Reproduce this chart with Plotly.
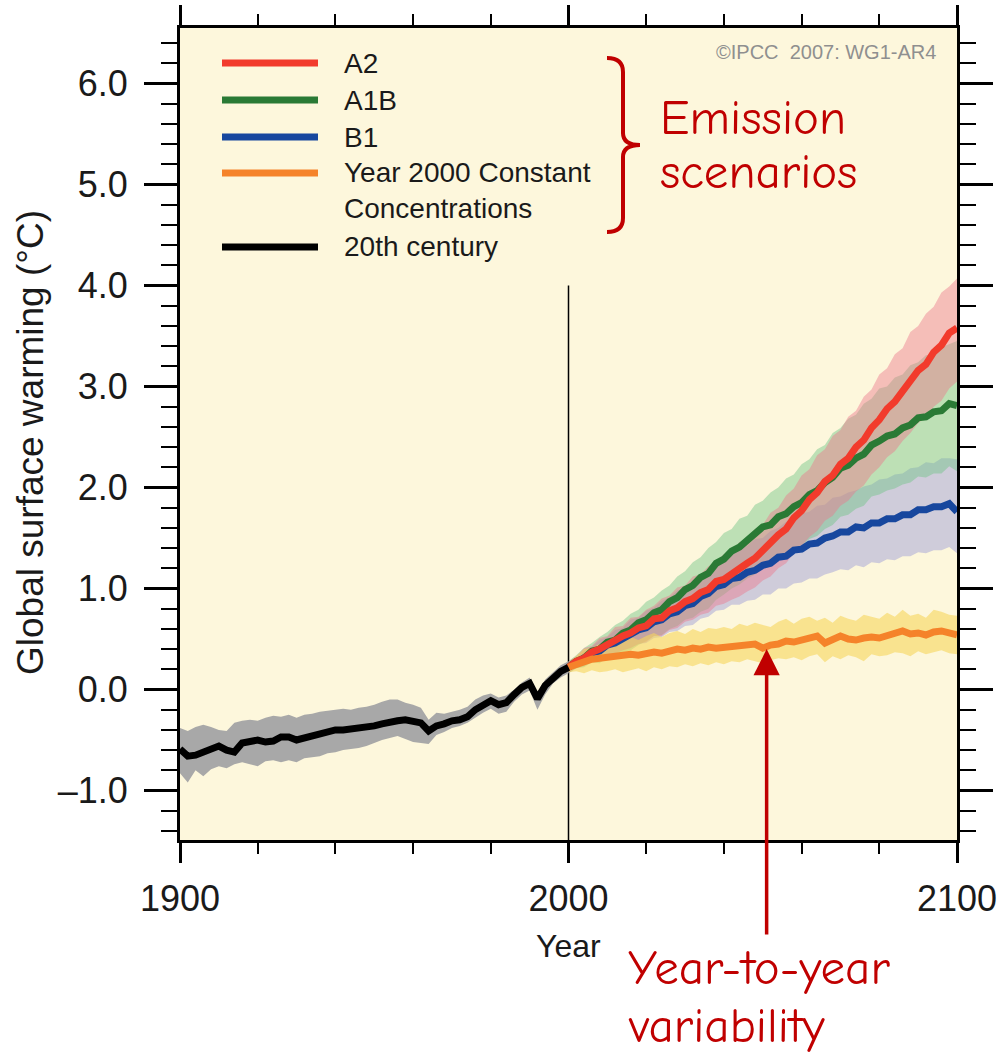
import plotly.graph_objects as go

# ---------------- data ----------------
YEARS_20C = list(range(1900, 2001, 2))
MEAN_20C = [-0.59, -0.66, -0.65, -0.62, -0.58, -0.56, -0.60, -0.62, -0.53, -0.51,
            -0.50, -0.52, -0.51, -0.47, -0.47, -0.50, -0.48, -0.46, -0.44, -0.41,
            -0.40, -0.40, -0.39, -0.38, -0.38, -0.36, -0.34, -0.32, -0.31, -0.30,
            -0.31, -0.33, -0.41, -0.36, -0.34, -0.31, -0.30, -0.27, -0.20, -0.15,
            -0.11, -0.15, -0.13, -0.05, 0.02, 0.06, -0.09, 0.04, 0.12, 0.18, 0.22]
UPPER_20C = [-0.38, -0.41, -0.37, -0.35, -0.37, -0.40, -0.41, -0.33, -0.31, -0.30,
             -0.31, -0.28, -0.26, -0.27, -0.25, -0.28, -0.25, -0.24, -0.22, -0.21,
             -0.20, -0.19, -0.20, -0.18, -0.17, -0.15, -0.12, -0.10, -0.10, -0.13,
             -0.15, -0.18, -0.30, -0.23, -0.24, -0.22, -0.20, -0.17, -0.10, -0.06,
             -0.04, -0.08, -0.06, 0.00, 0.07, 0.12, -0.03, 0.10, 0.17, 0.24, 0.28]
LOWER_20C = [-0.83, -0.92, -0.80, -0.86, -0.79, -0.76, -0.78, -0.74, -0.72, -0.74,
             -0.76, -0.71, -0.70, -0.72, -0.70, -0.72, -0.68, -0.67, -0.66, -0.63,
             -0.62, -0.60, -0.59, -0.58, -0.56, -0.53, -0.50, -0.48, -0.46, -0.49,
             -0.52, -0.53, -0.54, -0.45, -0.42, -0.38, -0.36, -0.33, -0.28, -0.23,
             -0.19, -0.24, -0.22, -0.12, -0.05, -0.01, -0.20, -0.05, 0.06, 0.12, 0.16]

YEARS_SCEN = list(range(2000, 2101, 2))
A2_MEAN = [0.22, 0.28, 0.31, 0.37, 0.40, 0.45, 0.48, 0.53, 0.56, 0.61,
           0.63, 0.70, 0.71, 0.78, 0.81, 0.87, 0.90, 0.96, 0.99, 1.07,
           1.09, 1.15, 1.19, 1.25, 1.30, 1.38, 1.44, 1.53, 1.59, 1.70,
           1.77, 1.88, 1.95, 2.06, 2.12, 2.23, 2.29, 2.40, 2.47, 2.59,
           2.67, 2.78, 2.85, 2.96, 3.05, 3.16, 3.22, 3.34, 3.41, 3.53, 3.58]
A2_UPPER = [0.28, 0.33, 0.41, 0.43, 0.51, 0.53, 0.62, 0.63, 0.71, 0.72,
            0.79, 0.83, 0.90, 0.93, 1.01, 1.03, 1.12, 1.14, 1.22, 1.27,
            1.34, 1.36, 1.46, 1.48, 1.59, 1.63, 1.75, 1.80, 1.92, 1.99,
            2.12, 2.18, 2.32, 2.38, 2.51, 2.57, 2.70, 2.76, 2.90, 2.97,
            3.12, 3.18, 3.32, 3.38, 3.54, 3.60, 3.72, 3.79, 3.93, 3.99, 4.07]
A2_LOWER = [0.16, 0.22, 0.25, 0.29, 0.30, 0.34, 0.36, 0.39, 0.41, 0.45,
            0.47, 0.53, 0.53, 0.59, 0.61, 0.67, 0.69, 0.74, 0.76, 0.83,
            0.85, 0.89, 0.92, 0.97, 1.01, 1.08, 1.12, 1.20, 1.25, 1.35,
            1.42, 1.51, 1.57, 1.67, 1.72, 1.82, 1.87, 1.96, 2.02, 2.13,
            2.20, 2.30, 2.36, 2.46, 2.54, 2.64, 2.69, 2.80, 2.86, 2.98, 3.05]

A1B_MEAN = [0.22, 0.28, 0.31, 0.38, 0.40, 0.47, 0.49, 0.56, 0.59, 0.66,
            0.69, 0.76, 0.79, 0.87, 0.91, 0.99, 1.03, 1.11, 1.15, 1.25,
            1.29, 1.37, 1.41, 1.48, 1.53, 1.61, 1.63, 1.71, 1.74, 1.81,
            1.85, 1.93, 1.97, 2.05, 2.10, 2.19, 2.22, 2.29, 2.33, 2.42,
            2.46, 2.51, 2.53, 2.59, 2.62, 2.69, 2.70, 2.75, 2.76, 2.83, 2.81]
A1B_UPPER = [0.28, 0.34, 0.41, 0.46, 0.52, 0.57, 0.64, 0.68, 0.75, 0.79,
             0.87, 0.91, 0.98, 1.03, 1.12, 1.17, 1.26, 1.31, 1.40, 1.46,
             1.55, 1.59, 1.69, 1.72, 1.83, 1.87, 1.95, 2.00, 2.09, 2.13,
             2.23, 2.28, 2.38, 2.42, 2.54, 2.59, 2.68, 2.72, 2.83, 2.88,
             2.98, 3.00, 3.09, 3.12, 3.21, 3.24, 3.31, 3.32, 3.39, 3.42, 3.45]
A1B_LOWER = [0.16, 0.21, 0.22, 0.27, 0.26, 0.32, 0.32, 0.37, 0.39, 0.44,
             0.48, 0.53, 0.54, 0.60, 0.63, 0.69, 0.71, 0.77, 0.80, 0.89,
             0.94, 1.00, 1.04, 1.10, 1.14, 1.21, 1.21, 1.29, 1.31, 1.37,
             1.42, 1.49, 1.52, 1.59, 1.63, 1.71, 1.73, 1.79, 1.82, 1.91,
             1.93, 1.97, 1.99, 2.03, 2.05, 2.11, 2.10, 2.14, 2.14, 2.21, 2.16]

B1_MEAN = [0.22, 0.27, 0.30, 0.36, 0.38, 0.44, 0.46, 0.51, 0.54, 0.59,
           0.61, 0.67, 0.69, 0.75, 0.77, 0.83, 0.85, 0.92, 0.95, 1.02,
           1.04, 1.10, 1.11, 1.16, 1.18, 1.23, 1.25, 1.31, 1.32, 1.38,
           1.39, 1.44, 1.45, 1.50, 1.52, 1.56, 1.56, 1.61, 1.60, 1.65,
           1.65, 1.69, 1.69, 1.73, 1.73, 1.78, 1.78, 1.81, 1.81, 1.84, 1.76]
B1_UPPER = [0.28, 0.31, 0.39, 0.42, 0.49, 0.52, 0.59, 0.61, 0.69, 0.71,
            0.78, 0.81, 0.88, 0.91, 0.98, 1.01, 1.08, 1.12, 1.20, 1.24,
            1.31, 1.34, 1.40, 1.42, 1.49, 1.50, 1.57, 1.60, 1.66, 1.69,
            1.74, 1.76, 1.82, 1.83, 1.90, 1.91, 1.95, 1.97, 2.01, 2.03,
            2.08, 2.09, 2.13, 2.14, 2.19, 2.20, 2.25, 2.24, 2.29, 2.29, 2.28]
B1_LOWER = [0.16, 0.21, 0.23, 0.28, 0.29, 0.34, 0.35, 0.39, 0.41, 0.45,
            0.46, 0.51, 0.52, 0.57, 0.58, 0.63, 0.64, 0.70, 0.72, 0.78,
            0.79, 0.84, 0.84, 0.88, 0.89, 0.94, 0.94, 1.00, 1.00, 1.05,
            1.06, 1.10, 1.10, 1.14, 1.16, 1.19, 1.18, 1.23, 1.21, 1.26,
            1.25, 1.29, 1.28, 1.32, 1.32, 1.36, 1.35, 1.38, 1.38, 1.41, 1.35]

CONST_MEAN = [0.22, 0.25, 0.28, 0.30, 0.31, 0.32, 0.33, 0.33, 0.35, 0.34,
              0.36, 0.37, 0.36, 0.38, 0.40, 0.39, 0.41, 0.40, 0.42, 0.41,
              0.42, 0.43, 0.44, 0.45, 0.45, 0.41, 0.44, 0.45, 0.48, 0.47,
              0.49, 0.51, 0.53, 0.46, 0.50, 0.53, 0.50, 0.49, 0.51, 0.52,
              0.51, 0.53, 0.56, 0.58, 0.55, 0.56, 0.54, 0.57, 0.58, 0.56, 0.54]
CONST_UPPER = [0.27, 0.33, 0.40, 0.41, 0.45, 0.47, 0.44, 0.50, 0.52, 0.49,
               0.53, 0.56, 0.52, 0.56, 0.58, 0.55, 0.60, 0.57, 0.61, 0.60,
               0.62, 0.60, 0.65, 0.63, 0.66, 0.64, 0.62, 0.67, 0.70, 0.65,
               0.70, 0.72, 0.68, 0.71, 0.66, 0.73, 0.70, 0.68, 0.74, 0.72,
               0.70, 0.76, 0.72, 0.79, 0.73, 0.75, 0.71, 0.79, 0.77, 0.74, 0.73]
CONST_LOWER = [0.17, 0.18, 0.16, 0.19, 0.17, 0.18, 0.20, 0.17, 0.19, 0.21,
               0.18, 0.22, 0.20, 0.23, 0.22, 0.25, 0.23, 0.26, 0.24, 0.27,
               0.25, 0.28, 0.27, 0.30, 0.28, 0.26, 0.29, 0.31, 0.30, 0.32,
               0.29, 0.33, 0.35, 0.27, 0.33, 0.30, 0.34, 0.32, 0.28, 0.35,
               0.33, 0.34, 0.37, 0.36, 0.33, 0.38, 0.35, 0.37, 0.39, 0.36, 0.35]

SERIES_NAMES = ["A2", "A1B", "B1", "Year 2000 Constant<br>Concentrations", "20th century"]
X_TICKS = [1900, 2000, 2100]
Y_TICKS = [-1, 0, 1, 2, 3, 4, 5, 6]
Y_TICK_LABELS = [f"{v:.1f}".replace("-", "\u2013") for v in Y_TICKS]
X_RANGE = [1900, 2100]
Y_RANGE = [-1.49, 6.55]
DIVIDER_YEAR = 2000
DIVIDER_TOP = 4.0
ARROW_YEAR = 2051
ARROW_VALUE = 0.40

for arr in [A2_MEAN, A2_UPPER, A2_LOWER, A1B_MEAN, A1B_UPPER, A1B_LOWER, B1_MEAN,
            B1_UPPER, B1_LOWER, CONST_MEAN, CONST_UPPER, CONST_LOWER]:
    assert len(arr) == len(YEARS_SCEN), len(arr)
for arr in [MEAN_20C, UPPER_20C, LOWER_20C]:
    assert len(arr) == len(YEARS_20C), len(arr)

# ---------------- styling ----------------
W, H = 998, 1060
M = dict(l=180, r=41, t=28, b=220)
PW = W - M["l"] - M["r"]
PH = H - M["t"] - M["b"]


def px(x):
    return (x - M["l"]) / PW


def py(y):
    return (H - M["b"] - y) / PH


RED = "#C00000"
FONT = "Liberation Sans, Arial, Helvetica, sans-serif"
HAND = "Comic Sans MS, Comic Neue, Lato, sans-serif"

LINE_COLORS = ["#F23B2C", "#2A7A35", "#17479E", "#F5832A", "#000000"]
BAND_COLORS = ["rgba(236,120,140,0.45)", "rgba(110,196,132,0.45)",
               "rgba(150,150,215,0.45)", "rgba(246,214,92,0.60)", "rgb(168,168,168)"]

fig = go.Figure()


def band(x, up, lo, color):
    fig.add_trace(go.Scatter(x=x + x[::-1], y=up + lo[::-1], fill="toself",
                             fillcolor=color, line=dict(width=0), mode="lines",
                             hoverinfo="skip", showlegend=False))


band(YEARS_SCEN, B1_UPPER, B1_LOWER, BAND_COLORS[2])
band(YEARS_SCEN, A1B_UPPER, A1B_LOWER, BAND_COLORS[1])
band(YEARS_SCEN, A2_UPPER, A2_LOWER, BAND_COLORS[0])
band(YEARS_SCEN, CONST_UPPER, CONST_LOWER, BAND_COLORS[3])
band(YEARS_20C, UPPER_20C, LOWER_20C, BAND_COLORS[4])

for yv, col, name in [(B1_MEAN, LINE_COLORS[2], "B1"), (A1B_MEAN, LINE_COLORS[1], "A1B"),
                      (A2_MEAN, LINE_COLORS[0], "A2"), (CONST_MEAN, LINE_COLORS[3], "const")]:
    fig.add_trace(go.Scatter(x=YEARS_SCEN, y=yv, mode="lines", name=name,
                             line=dict(color=col, width=7), showlegend=False))
fig.add_trace(go.Scatter(x=YEARS_20C, y=MEAN_20C, mode="lines", name="20th century",
                         line=dict(color=LINE_COLORS[4], width=7), showlegend=False))

shapes = []
# divider at year 2000
shapes.append(dict(type="line", xref="x", yref="y", x0=DIVIDER_YEAR, x1=DIVIDER_YEAR,
                   y0=Y_RANGE[0], y1=DIVIDER_TOP, line=dict(color="black", width=1.5),
                   layer="below"))

annotations = []
# custom legend
legend_rows = [63, 100, 137, 173, 247]
text_rows = [63, 100, 137, 191, 247]
for i, name in enumerate(SERIES_NAMES):
    yy = py(legend_rows[i])
    shapes.append(dict(type="line", xref="paper", yref="paper", x0=px(222), x1=px(318),
                       y0=yy, y1=yy, line=dict(color=LINE_COLORS[i], width=7)))
    annotations.append(dict(xref="paper", yref="paper", x=px(342), y=py(text_rows[i]),
                            xanchor="left", yanchor="middle", align="left", showarrow=False,
                            text=name, font=dict(family=FONT, size=28, color="#1a1a1a")))

annotations.append(dict(xref="paper", yref="paper", x=px(938), y=py(52), xanchor="right",
                        yanchor="middle", showarrow=False, text="\u00a9IPCC\u00a0 2007: WG1-AR4",
                        font=dict(family=FONT, size=20, color="#8f8f8f")))

# axis titles
annotations.append(dict(xref="paper", yref="paper", x=px(30), y=py(443), textangle=-90,
                        xanchor="center", yanchor="middle", showarrow=False,
                        text="Global surface warming (\u00b0C)",
                        font=dict(family=FONT, size=37, color="#1a1a1a")))
annotations.append(dict(xref="paper", yref="paper", x=px(568), y=py(946),
                        xanchor="center", yanchor="middle", showarrow=False, text="Year",
                        font=dict(family=FONT, size=32, color="#1a1a1a")))

# red call-outs
for txt, yc, xl in [("Emission", 118, 658), ("scenarios", 172, 658),
                    ("Year-to-year", 968, 626), ("variability", 1026, 626)]:
    annotations.append(dict(xref="paper", yref="paper", x=px(xl), y=py(yc), xanchor="left",
                            yanchor="middle", showarrow=False, text=txt,
                            font=dict(family=HAND, size=49, color=RED)))

# bracket
pts = lambda x, y: f"{px(x):.5f},{py(y):.5f}"
path = ("M " + pts(607, 58) + " Q " + pts(623, 58) + " " + pts(623, 72) +
        " L " + pts(623, 133) + " Q " + pts(623, 145) + " " + pts(640, 145) +
        " Q " + pts(623, 145) + " " + pts(623, 157) + " L " + pts(623, 218) +
        " Q " + pts(623, 232) + " " + pts(607, 232))
shapes.append(dict(type="path", xref="paper", yref="paper", path=path,
                   line=dict(color=RED, width=4)))

# arrow
annotations.append(dict(xref="x", yref="y", x=ARROW_YEAR, y=ARROW_VALUE, ax=0, ay=287,
                        text="", showarrow=True, arrowhead=2, arrowsize=1.5,
                        arrowwidth=3.5, arrowcolor=RED, standoff=0))

axis_common = dict(showline=True, linewidth=3, linecolor="black", mirror="ticks",
                   ticks="outside", tickcolor="black", showgrid=False, zeroline=False,
                   automargin=False,
                   tickfont=dict(family=FONT, size=36, color="#1a1a1a"))

fig.update_layout(
    template="none",
    width=W, height=H, margin=M, autosize=False,
    paper_bgcolor="white", plot_bgcolor="#FDF7DC",
    showlegend=False, shapes=shapes, annotations=annotations,
    xaxis=dict(range=X_RANGE, tickvals=X_TICKS, ticklen=20, tickwidth=3,
               ticklabelstandoff=5,
               minor=dict(tick0=1900, dtick=20, ticklen=11, tickwidth=2, tickcolor="black",
                          ticks="outside", showgrid=False),
               **axis_common),
    yaxis=dict(range=Y_RANGE, tickvals=Y_TICKS, ticktext=Y_TICK_LABELS, ticklen=33,
               tickwidth=3, ticklabelstandoff=9,
               minor=dict(tick0=0, dtick=0.2, ticklen=16, tickwidth=2, tickcolor="black",
                          ticks="outside", showgrid=False),
               **axis_common),
)

fig.write_html("out.html")
